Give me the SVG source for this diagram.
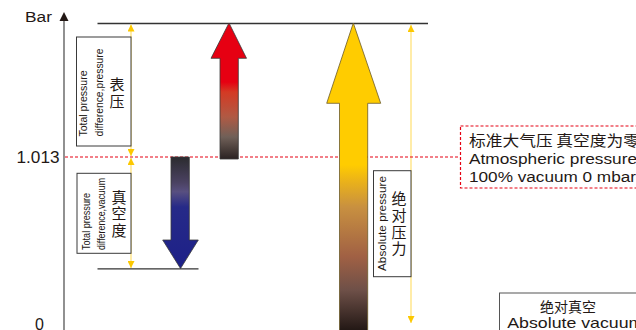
<svg xmlns="http://www.w3.org/2000/svg" width="636" height="330" viewBox="0 0 636 330">
<style>
.lat{font-family:"Liberation Sans",Arial,sans-serif;fill:#231815}
.cjk{font-family:"Noto Sans CJK SC","Noto Sans",sans-serif;fill:#231815}
.vert{writing-mode:vertical-rl;text-orientation:upright}
.box{fill:#fff;stroke:#3a3a3a;stroke-width:1}
.dim{stroke:#ffe27a;stroke-width:1.3;fill:none;marker-start:url(#ya);marker-end:url(#ya)}
.rd{stroke:#e60012;stroke-width:1.2;stroke-dasharray:3 2;fill:none}
.blk{stroke:#333;stroke-width:1.3}
.arr{stroke:#3a3a3a;stroke-width:0.8}
</style>
<defs>
<marker id="ya" viewBox="0 0 8 8" refX="8" refY="4" markerWidth="7" markerHeight="7" markerUnits="userSpaceOnUse" orient="auto-start-reverse">
<path d="M0,0 L8,4 L0,8 Z" fill="#fcc800"/>
</marker>
<linearGradient id="gRed" gradientUnits="userSpaceOnUse" x1="0" y1="23" x2="0" y2="159">
<stop offset="0" stop-color="#e60012"/>
<stop offset="0.434" stop-color="#e60012"/>
<stop offset="0.507" stop-color="#d43a24"/>
<stop offset="0.69" stop-color="#b05a44"/>
<stop offset="0.838" stop-color="#706058"/>
<stop offset="1" stop-color="#2a2222"/>
</linearGradient>
<linearGradient id="gBlue" gradientUnits="userSpaceOnUse" x1="0" y1="157" x2="0" y2="269">
<stop offset="0" stop-color="#2b2b2e"/>
<stop offset="0.232" stop-color="#4b4263"/>
<stop offset="0.31" stop-color="#584f80"/>
<stop offset="0.446" stop-color="#262a88"/>
<stop offset="1" stop-color="#1d2088"/>
</linearGradient>
<linearGradient id="gYel" gradientUnits="userSpaceOnUse" x1="0" y1="23" x2="0" y2="330">
<stop offset="0" stop-color="#ffcc00"/>
<stop offset="0.4625" stop-color="#ffcc00"/>
<stop offset="0.511" stop-color="#ecb418"/>
<stop offset="0.6" stop-color="#c89040"/>
<stop offset="0.762" stop-color="#a06044"/>
<stop offset="0.87" stop-color="#6e5048"/>
<stop offset="1" stop-color="#231815"/>
</linearGradient>
</defs>
<rect width="636" height="330" fill="#fff"/>

<g id="axis">
<line x1="64" y1="19" x2="64" y2="330" stroke="#555" stroke-width="1.3"/>
<path d="M64,12 L68.5,21 L59.5,21 Z" fill="#231815"/>
<text class="lat" x="25" y="21.5" font-size="14" textLength="27" lengthAdjust="spacingAndGlyphs">Bar</text>
<text class="lat" x="16.5" y="163" font-size="16" textLength="43" lengthAdjust="spacingAndGlyphs">1.013</text>
<text class="lat" x="35" y="330" font-size="16">0</text>
</g>

<g id="reference-lines">
<line class="blk" x1="97.5" y1="23.5" x2="428" y2="23.5"/>
<line class="blk" x1="97.5" y1="268.8" x2="198.5" y2="268.8"/>
</g>

<g id="connectors">
<line class="dim" x1="131" y1="24.5" x2="131" y2="156"/>
<line class="dim" x1="131" y1="158" x2="131" y2="268"/>
<line class="dim" x1="411" y1="25" x2="411" y2="323"/>
<line class="rd" x1="65" y1="157" x2="460" y2="157"/>
</g>

<g id="arrow-gauge">
<path class="arr" fill="url(#gRed)" d="M229,23 L246.5,58.3 L238.3,58.3 L238.3,159 L220,159 L220,58.3 L211,58.3 Z"/>
</g>
<g id="arrow-vacuum">
<path class="arr" fill="url(#gBlue)" d="M171,157 L189.3,157 L189.3,240 L198.3,240 L180.5,268.5 L162.7,240 L171,240 Z"/>
</g>
<g id="arrow-absolute">
<path stroke="#6b5a2a" stroke-width="0.8" fill="url(#gYel)" d="M353.3,23 L380.7,103.3 L367.7,103.3 L367.7,332 L339.5,332 L339.5,103.3 L326.7,103.3 Z"/>
</g>

<g id="node-gauge">
<rect class="box" x="76.5" y="37" width="54.5" height="109"/>
<text class="lat" font-size="10" transform="translate(87,136.5) rotate(-90)" textLength="66" lengthAdjust="spacingAndGlyphs">Total pressure</text>
<text class="lat" font-size="10" transform="translate(102.5,136.5) rotate(-90)" textLength="88" lengthAdjust="spacingAndGlyphs">difference,pressure</text>
<text class="cjk vert" font-size="15" x="117" y="76.5" letter-spacing="2">表压</text>
</g>

<g id="node-vacuum">
<rect class="box" x="77" y="173.3" width="54" height="80"/>
<text class="lat" font-size="10" transform="translate(89.5,250) rotate(-90)" textLength="57" lengthAdjust="spacingAndGlyphs">Total pressure</text>
<text class="lat" font-size="10" transform="translate(104.8,250) rotate(-90)" textLength="72" lengthAdjust="spacingAndGlyphs">difference,vacuum</text>
<text class="cjk vert" font-size="15" x="119" y="189.5" letter-spacing="1.5">真空度</text>
</g>

<g id="node-absolute-pressure">
<rect class="box" x="373.5" y="170.7" width="37.5" height="106"/>
<text class="lat" font-size="11" transform="translate(385.5,271) rotate(-90)" textLength="95" lengthAdjust="spacingAndGlyphs">Absolute pressure</text>
<text class="cjk vert" font-size="15" x="399" y="191" letter-spacing="1.7">绝对压力</text>
</g>

<g id="node-atmospheric">
<rect class="rd" x="460.5" y="126" width="190" height="62"/>
<text class="cjk" font-size="15" x="469" y="145.5" textLength="171" lengthAdjust="spacingAndGlyphs">标准大气压 真空度为零</text>
<text class="lat" font-size="15.5" x="469" y="164.3" textLength="168" lengthAdjust="spacingAndGlyphs">Atmospheric pressure</text>
<text class="lat" font-size="15.5" x="469" y="182.3" textLength="167" lengthAdjust="spacingAndGlyphs">100% vacuum 0 mbar</text>
</g>

<g id="node-absolute-vacuum">
<rect x="499.5" y="293" width="160" height="60" fill="#fff" stroke="#555" stroke-width="1"/>
<text class="cjk" font-size="14" x="568" y="312" text-anchor="middle">绝对真空</text>
<text class="lat" font-size="14.5" x="507.3" y="327.5" textLength="136" lengthAdjust="spacingAndGlyphs">Absolute vacuum</text>
</g>
</svg>
